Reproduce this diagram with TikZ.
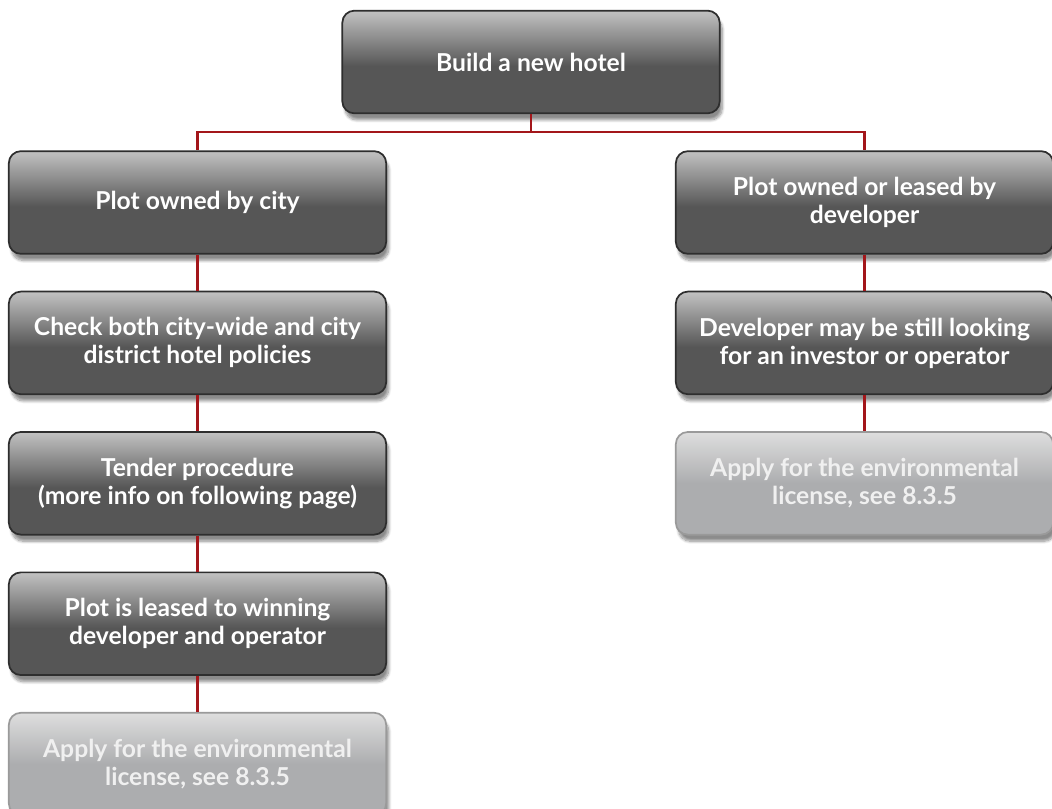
\documentclass[tikz,border=0pt]{standalone}
\usepackage{fontspec}
\setmainfont{Lato}
\usepackage{tikz}
\usetikzlibrary{positioning,shadows.blur}

\definecolor{boxdark}{HTML}{565656}
\definecolor{boxtop}{HTML}{C2C2C2}
\definecolor{boxline}{HTML}{2E2E2E}
\definecolor{palebox}{HTML}{ACADAF}
\definecolor{paletop}{HTML}{DEDEDE}
\definecolor{paleline}{HTML}{9A9A9A}
\definecolor{linkred}{HTML}{A3161A}

\pgfdeclareverticalshading{darkfade}{100bp}{color(0bp)=(boxdark); color(48bp)=(boxdark); color(75bp)=(boxtop); color(100bp)=(boxtop)}
\pgfdeclareverticalshading{palefade}{100bp}{color(0bp)=(palebox); color(50bp)=(palebox); color(75bp)=(paletop); color(100bp)=(paletop)}

\begin{document}
\begin{tikzpicture}[
  x=0.75pt, y=-0.75pt,
  darkbox/.style={draw=boxline, line width=1.3pt, rounded corners=9pt, shading=darkfade,
    minimum width=283pt, minimum height=77pt, align=center, text=white,
    font=\fontsize{18.5}{21}\selectfont\bfseries,
    blur shadow={shadow xshift=2pt, shadow yshift=-5pt, shadow opacity=45, shadow blur steps=10}},
  palebox/.style={darkbox, draw=paleline, shading=palefade, text=white!94!black},
  link/.style={draw=linkred, line width=1.6pt}
]
\useasboundingbox (0,0) rectangle (1052,809);
\clip (0,0) rectangle (1052,809);

\node[darkbox] (hotel) at (531,62) {Build a new hotel};

% city plot branch
\node[darkbox] (city) at (197.5,202.5) {Plot owned by city};
\node[darkbox, below=27pt of city] (policies) {Check both city-wide and city\\district hotel policies};
\node[darkbox, below=27pt of policies] (tender) {Tender procedure\\(more info on following page)};
\node[darkbox, below=27pt of tender] (leased) {Plot is leased to winning\\developer and operator};
\node[palebox, below=27pt of leased] (envleft) {Apply for the environmental\\license, see 8.3.5};

% developer plot branch
\node[darkbox] (devplot) at (864.5,202.5) {Plot owned or leased by\\developer};
\node[darkbox, below=27pt of devplot] (investor) {Developer may be still looking\\for an investor or operator};
\node[palebox, below=27pt of investor] (envright) {Apply for the environmental\\license, see 8.3.5};

\coordinate (fork) at ([yshift=-13.5pt]hotel.south);
\draw[link] (hotel.south) -- (fork);
\draw[link] (fork) -| (city.north);
\draw[link] (fork) -| (devplot.north);
\draw[link] (city) -- (policies);
\draw[link] (policies) -- (tender);
\draw[link] (tender) -- (leased);
\draw[link] (leased) -- (envleft);
\draw[link] (devplot) -- (investor);
\draw[link] (investor) -- (envright);
\end{tikzpicture}
\end{document}
